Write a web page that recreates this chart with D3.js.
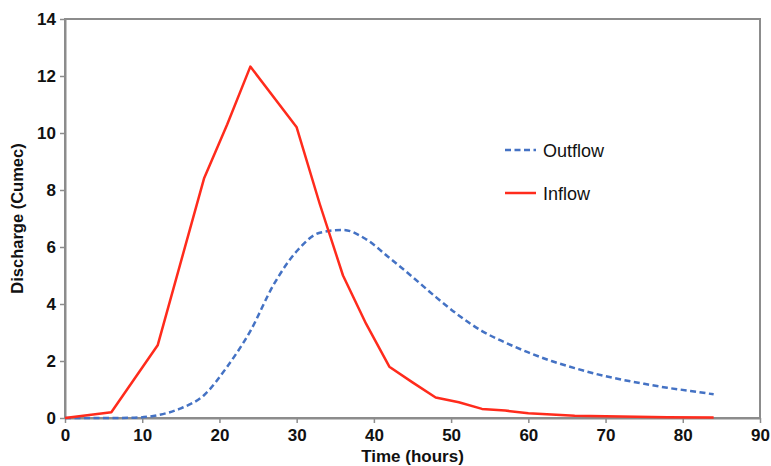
<!DOCTYPE html>
<html><head><meta charset="utf-8">
<script src="https://cdn.jsdelivr.net/npm/d3@7"></script>
<style>
html,body{margin:0;padding:0;background:#fff;}
svg{display:block;font-family:"Liberation Sans",Arial,sans-serif;}
</style></head>
<body><svg id="chart" width="771" height="466"></svg>
<script>
// Data
const inflowTime  = [0, 6, 12, 18, 21, 24, 30, 33, 36, 39, 42, 45, 48, 51, 54, 57, 60, 66, 72, 78, 84];
const inflowValue = [0, 0.2, 2.55, 8.4, 10.3, 12.33, 10.2, 7.5, 5.0, 3.3, 1.8, 1.25, 0.72, 0.55, 0.32, 0.26, 0.17, 0.08, 0.05, 0.03, 0.02];
const outflowTime  = [0, 3, 6, 9, 12, 15, 18, 21, 24, 27, 30, 33, 36, 39, 42, 45, 48, 51, 54, 57, 60, 63, 66, 69, 72, 75, 78, 81, 84];
const outflowValue = [0, 0, 0, 0.01, 0.1, 0.34, 0.8, 1.8, 3.05, 4.67, 5.85, 6.5, 6.6, 6.27, 5.62, 4.95, 4.25, 3.6, 3.05, 2.65, 2.3, 2.0, 1.75, 1.53, 1.35, 1.2, 1.06, 0.95, 0.83];
const xTicks = [0, 10, 20, 30, 40, 50, 60, 70, 80, 90];
const yTicks = [0, 2, 4, 6, 8, 10, 12, 14];
const seriesNames = ["Outflow", "Inflow"];
const seriesColors = ["#4472C4", "#FF2B1C"];

const svg = d3.select("#chart");
const L = 65, R = 760, T = 19, B = 418;
const x = d3.scaleLinear().domain([0, 90]).range([L, R]);
const y = d3.scaleLinear().domain([0, 14]).range([B, T]);
const axisColor = "#8c8c8c";

// frame
svg.append("rect").attr("x", L).attr("y", T).attr("width", R - L).attr("height", B - T)
  .attr("fill", "none").attr("stroke", axisColor).attr("stroke-width", 2);

const xAxis = svg.append("g").attr("transform", `translate(0,${B})`)
  .call(d3.axisBottom(x).tickValues(xTicks).tickSize(5).tickSizeOuter(0).tickPadding(6).tickFormat(d3.format("d")));
const yAxis = svg.append("g").attr("transform", `translate(${L},0)`)
  .call(d3.axisLeft(y).tickValues(yTicks).tickSize(5).tickSizeOuter(0).tickPadding(4).tickFormat(d3.format("d")));
[xAxis, yAxis].forEach(g => {
  g.select(".domain").attr("stroke", axisColor).attr("stroke-width", 2);
  g.selectAll(".tick line").attr("stroke", axisColor).attr("stroke-width", 1.5);
  g.selectAll(".tick text").attr("fill", "#111").attr("font-size", 17).attr("font-weight", "bold")
    .attr("font-family", "'Liberation Sans', Arial, sans-serif");
});

// lines
const outData = outflowTime.map((t, i) => [t, outflowValue[i]]);
const inData = inflowTime.map((t, i) => [t, inflowValue[i]]);
svg.append("path").datum(outData)
  .attr("d", d3.line().x(d => x(d[0])).y(d => y(d[1])).curve(d3.curveMonotoneX))
  .attr("fill", "none").attr("stroke", seriesColors[0]).attr("stroke-width", 2.5)
  .attr("stroke-dasharray", "6,3.5");
svg.append("path").datum(inData)
  .attr("d", d3.line().x(d => x(d[0])).y(d => y(d[1])))
  .attr("fill", "none").attr("stroke", seriesColors[1]).attr("stroke-width", 2.5)
  .attr("stroke-linejoin", "round");

// axis titles
svg.append("text").attr("x", (L + R) / 2).attr("y", 462).attr("text-anchor", "middle")
  .attr("font-size", 17).attr("font-weight", "bold").attr("fill", "#111").text("Time (hours)");
svg.append("text").attr("transform", `translate(23,${(T + B) / 2}) rotate(-90)`).attr("text-anchor", "middle")
  .attr("font-size", 16.5).attr("font-weight", "bold").attr("fill", "#111").text("Discharge (Cumec)");

// legend
const legY = [150, 193];
seriesNames.forEach((name, i) => {
  const g = svg.append("g").attr("transform", `translate(505,${legY[i]})`);
  g.append("line").attr("x1", 0).attr("x2", 31).attr("y1", 0).attr("y2", 0)
    .attr("stroke", seriesColors[i]).attr("stroke-width", 2.5)
    .attr("stroke-dasharray", i === 0 ? "6,3.5" : null);
  g.append("text").attr("x", 38).attr("y", 6.5).attr("font-size", 18).attr("fill", "#111").text(name);
});
</script>
</body></html>
